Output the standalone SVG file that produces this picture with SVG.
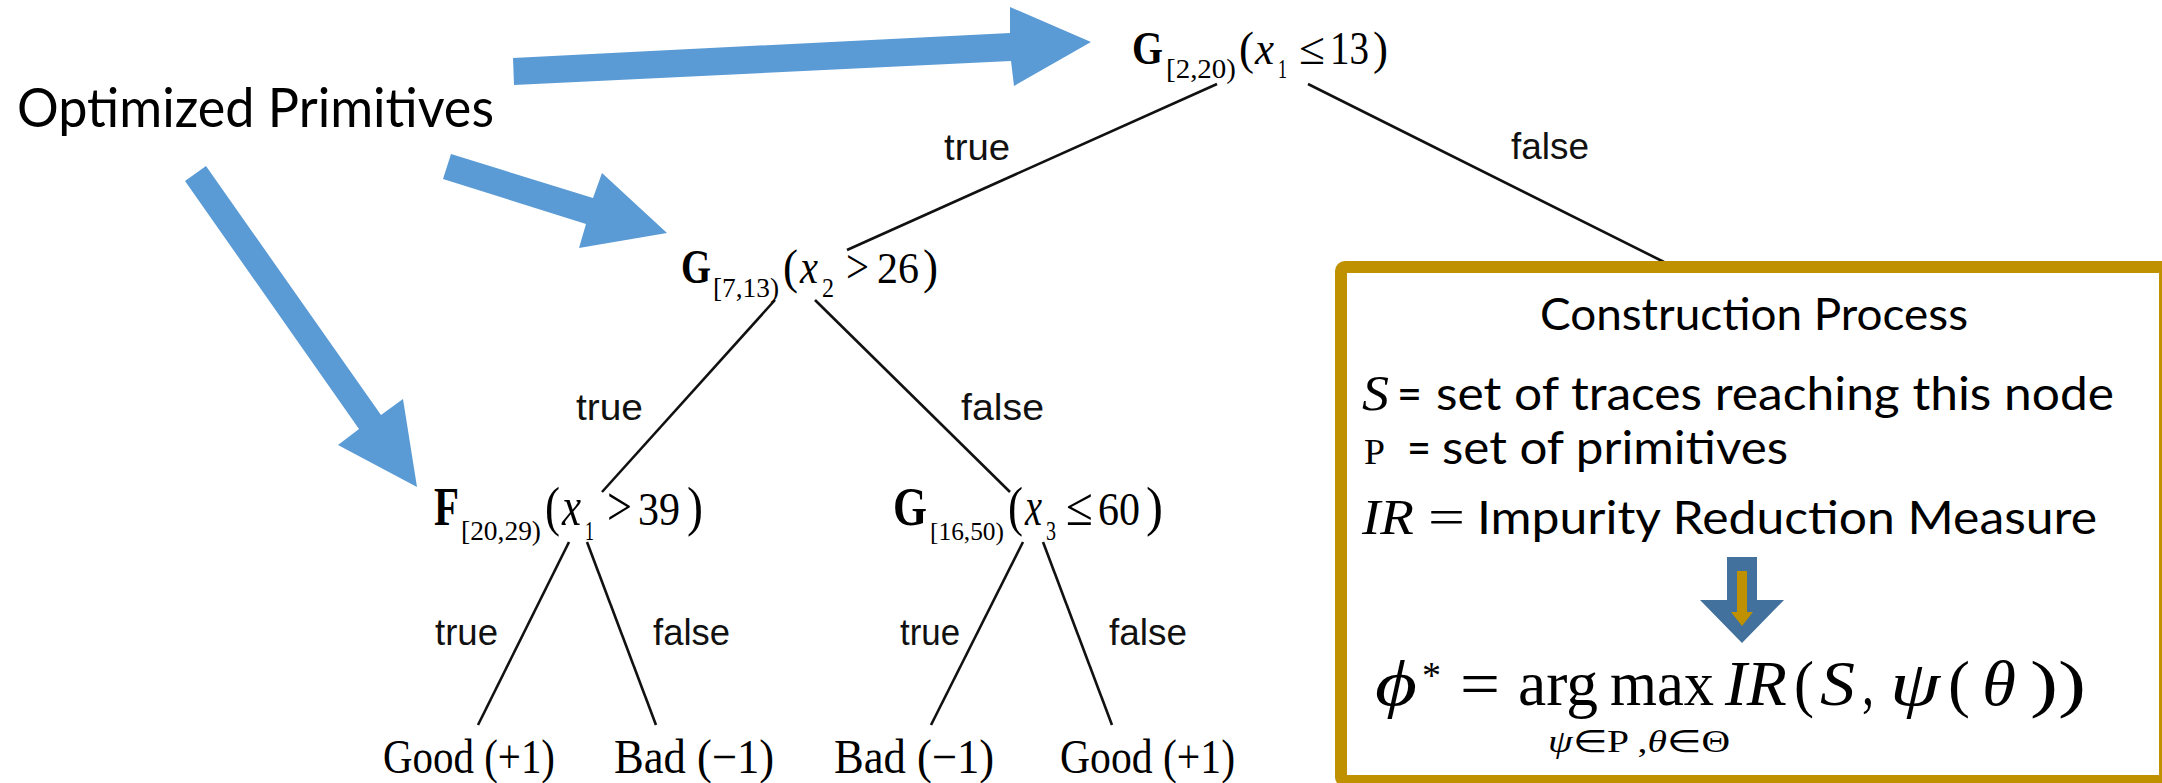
<svg xmlns="http://www.w3.org/2000/svg" width="2162" height="783" viewBox="0 0 2162 783">
<style>
.t{font-family:"Liberation Serif","Times New Roman",serif;fill:#000}
.b{font-weight:bold}
.i{font-style:italic}
.lab{font-family:"Liberation Sans",Arial,sans-serif;font-size:37px;fill:#111}
.cal{font-family:Lato,"Open Sans",sans-serif;fill:#000}
.edge{stroke:#111;stroke-width:2.6;fill:none}
.blue{fill:#5B9BD5}
</style>
<rect width="2162" height="783" fill="#fff"/>

<g id="label-optimized">
<text class="cal" x="17" y="127" font-size="54" textLength="477" lengthAdjust="spacingAndGlyphs">Optimized Primitives</text>
</g>

<g id="blue-arrows">
<polygon class="blue" points="513,58 1010,33 1010,7 1091,42 1014,86 1011,61 514,85"/>
<polygon class="blue" points="451,154 593,198 602,173 667,233 579,248 586,224 443,179"/>
<polygon class="blue" points="206,166 381,415 403,399 417,487 338,445 359,429 185,181"/>
</g>

<g id="connectors">
<line class="edge" x1="1217" y1="84" x2="847" y2="250"/>
<line class="edge" x1="1308" y1="84" x2="1664" y2="262"/>
<line class="edge" x1="775" y1="300" x2="602" y2="492"/>
<line class="edge" x1="815" y1="300" x2="1010" y2="492"/>
<line class="edge" x1="569" y1="542" x2="478" y2="725"/>
<line class="edge" x1="587" y1="542" x2="656" y2="725"/>
<line class="edge" x1="1023" y1="542" x2="931" y2="725"/>
<line class="edge" x1="1043" y1="542" x2="1112" y2="725"/>
<text class="lab" x="944" y="160" textLength="66" lengthAdjust="spacingAndGlyphs">true</text>
<text class="lab" x="1511" y="159" textLength="78" lengthAdjust="spacingAndGlyphs">false</text>
<text class="lab" x="576" y="420" textLength="67" lengthAdjust="spacingAndGlyphs">true</text>
<text class="lab" x="961" y="420" textLength="83" lengthAdjust="spacingAndGlyphs">false</text>
<text class="lab" x="435" y="645" textLength="63" lengthAdjust="spacingAndGlyphs">true</text>
<text class="lab" x="653" y="645" textLength="77" lengthAdjust="spacingAndGlyphs">false</text>
<text class="lab" x="900" y="645" textLength="60" lengthAdjust="spacingAndGlyphs">true</text>
<text class="lab" x="1109" y="645" textLength="78" lengthAdjust="spacingAndGlyphs">false</text>
</g>

<g id="node-root">
<text class="t b" x="1132" y="64" font-size="46" textLength="31" lengthAdjust="spacingAndGlyphs">G</text>
<text class="t" x="1166" y="78" font-size="28" textLength="70" lengthAdjust="spacingAndGlyphs">[2,20)</text>
<text class="t" x="1239" y="64" font-size="46" textLength="15" lengthAdjust="spacingAndGlyphs">(</text>
<text class="t i" x="1255" y="64" font-size="46" textLength="19" lengthAdjust="spacingAndGlyphs">x</text>
<text class="t" x="1278" y="78" font-size="28" textLength="9" lengthAdjust="spacingAndGlyphs">1</text>
<text class="t" x="1299" y="64" font-size="46" textLength="26" lengthAdjust="spacingAndGlyphs">≤</text>
<text class="t" x="1330" y="64" font-size="46" textLength="39" lengthAdjust="spacingAndGlyphs">13</text>
<text class="t" x="1373" y="64" font-size="46" textLength="15" lengthAdjust="spacingAndGlyphs">)</text>
</g>

<g id="node-g713">
<text class="t b" x="681" y="283" font-size="48" textLength="30" lengthAdjust="spacingAndGlyphs">G</text>
<text class="t" x="713" y="297" font-size="27" textLength="66" lengthAdjust="spacingAndGlyphs">[7,13)</text>
<text class="t" x="783" y="283" font-size="48" textLength="15" lengthAdjust="spacingAndGlyphs">(</text>
<text class="t i" x="800" y="283" font-size="48" textLength="18" lengthAdjust="spacingAndGlyphs">x</text>
<text class="t" x="822" y="297" font-size="27" textLength="12" lengthAdjust="spacingAndGlyphs">2</text>
<text class="t" x="846" y="283" font-size="48" textLength="23" lengthAdjust="spacingAndGlyphs">&gt;</text>
<text class="t" x="877" y="283" font-size="44" textLength="42" lengthAdjust="spacingAndGlyphs">26</text>
<text class="t" x="923" y="283" font-size="48" textLength="15" lengthAdjust="spacingAndGlyphs">)</text>
</g>

<g id="node-f2029">
<text class="t b" x="434" y="525" font-size="54" textLength="25" lengthAdjust="spacingAndGlyphs">F</text>
<text class="t" x="461" y="540" font-size="27" textLength="80" lengthAdjust="spacingAndGlyphs">[20,29)</text>
<text class="t" x="545" y="525" font-size="54" textLength="15" lengthAdjust="spacingAndGlyphs">(</text>
<text class="t i" x="562" y="525" font-size="54" textLength="19" lengthAdjust="spacingAndGlyphs">x</text>
<text class="t" x="585" y="540" font-size="27" textLength="9" lengthAdjust="spacingAndGlyphs">1</text>
<text class="t" x="607" y="525" font-size="54" textLength="25" lengthAdjust="spacingAndGlyphs">&gt;</text>
<text class="t" x="638" y="525" font-size="46" textLength="42" lengthAdjust="spacingAndGlyphs">39</text>
<text class="t" x="687" y="525" font-size="54" textLength="16" lengthAdjust="spacingAndGlyphs">)</text>
</g>

<g id="node-g1650">
<text class="t b" x="893" y="525" font-size="54" textLength="34" lengthAdjust="spacingAndGlyphs">G</text>
<text class="t" x="930" y="540" font-size="26" textLength="74" lengthAdjust="spacingAndGlyphs">[16,50)</text>
<text class="t" x="1008" y="525" font-size="54" textLength="15" lengthAdjust="spacingAndGlyphs">(</text>
<text class="t i" x="1025" y="525" font-size="54" textLength="17" lengthAdjust="spacingAndGlyphs">x</text>
<text class="t" x="1046" y="540" font-size="27" textLength="10" lengthAdjust="spacingAndGlyphs">3</text>
<text class="t" x="1066" y="525" font-size="54" textLength="27" lengthAdjust="spacingAndGlyphs">≤</text>
<text class="t" x="1098" y="525" font-size="46" textLength="42" lengthAdjust="spacingAndGlyphs">60</text>
<text class="t" x="1146" y="525" font-size="54" textLength="17" lengthAdjust="spacingAndGlyphs">)</text>
</g>

<g id="leaf-1"><text class="t" x="383" y="773" font-size="48" textLength="172" lengthAdjust="spacingAndGlyphs">Good (+1)</text></g>
<g id="leaf-2"><text class="t" x="614" y="773" font-size="48" textLength="160" lengthAdjust="spacingAndGlyphs">Bad (−1)</text></g>
<g id="leaf-3"><text class="t" x="834" y="773" font-size="48" textLength="160" lengthAdjust="spacingAndGlyphs">Bad (−1)</text></g>
<g id="leaf-4"><text class="t" x="1060" y="773" font-size="48" textLength="175" lengthAdjust="spacingAndGlyphs">Good (+1)</text></g>

<g id="construction-box">
<rect x="1341" y="267" width="824" height="514" rx="4" fill="#fff" stroke="#BF9000" stroke-width="12"/>
<text class="cal" x="1540" y="330" font-size="44" textLength="428" lengthAdjust="spacingAndGlyphs">Construction Process</text>

<text class="t i" x="1362" y="410" font-size="50" textLength="27" lengthAdjust="spacingAndGlyphs">S</text>
<text class="cal" x="1397" y="410" font-size="46" textLength="25" lengthAdjust="spacingAndGlyphs">=</text>
<text class="cal" x="1436" y="410" font-size="46" textLength="678" lengthAdjust="spacingAndGlyphs">set of traces reaching this node</text>

<text class="t" x="1364" y="464" font-size="36" textLength="21" lengthAdjust="spacingAndGlyphs">P</text>
<text class="cal" x="1407" y="464" font-size="46" textLength="24" lengthAdjust="spacingAndGlyphs">=</text>
<text class="cal" x="1442" y="464" font-size="46" textLength="346" lengthAdjust="spacingAndGlyphs">set of primitives</text>

<text class="t i" x="1362" y="534" font-size="50" textLength="52" lengthAdjust="spacingAndGlyphs">IR</text>
<text class="t" x="1428" y="534" font-size="50" textLength="37" lengthAdjust="spacingAndGlyphs">=</text>
<text class="cal" x="1477" y="534" font-size="46" textLength="620" lengthAdjust="spacingAndGlyphs">Impurity Reduction Measure</text>

<polygon fill="#41719C" points="1727,557 1757,557 1757,600 1784,600 1742,643 1700,600 1727,600"/>
<polygon fill="#BF9000" points="1737,571 1747,571 1747,612 1753,612 1742,626 1731,612 1737,612"/>

<text class="t i" x="1375" y="705" font-size="64" textLength="42" lengthAdjust="spacingAndGlyphs">ϕ</text>
<text class="t" x="1422" y="688" font-size="38">*</text>
<text class="t" x="1460" y="705" font-size="64" textLength="40" lengthAdjust="spacingAndGlyphs">=</text>
<text class="t" x="1518" y="705" font-size="64" textLength="80" lengthAdjust="spacingAndGlyphs">arg</text>
<text class="t" x="1610" y="705" font-size="64" textLength="104" lengthAdjust="spacingAndGlyphs">max</text>
<text class="t i" x="1725" y="705" font-size="64" textLength="62" lengthAdjust="spacingAndGlyphs">IR</text>
<text class="t" x="1794" y="705" font-size="64" textLength="20" lengthAdjust="spacingAndGlyphs">(</text>
<text class="t i" x="1820" y="705" font-size="64" textLength="35" lengthAdjust="spacingAndGlyphs">S</text>
<text class="t" x="1862" y="705" font-size="64" textLength="12" lengthAdjust="spacingAndGlyphs">,</text>
<text class="t i" x="1890" y="705" font-size="64" textLength="50" lengthAdjust="spacingAndGlyphs">ψ</text>
<text class="t" x="1948" y="705" font-size="64" textLength="22" lengthAdjust="spacingAndGlyphs">(</text>
<text class="t i" x="1982" y="705" font-size="64" textLength="34" lengthAdjust="spacingAndGlyphs">θ</text>
<text class="t" x="2030" y="705" font-size="64" textLength="56" lengthAdjust="spacingAndGlyphs">))</text>
<text class="t" x="1548" y="752" font-size="31" textLength="182" lengthAdjust="spacingAndGlyphs"><tspan class="i">ψ</tspan>∈P ,<tspan class="i">θ</tspan>∈Θ</text>
</g>
</svg>
